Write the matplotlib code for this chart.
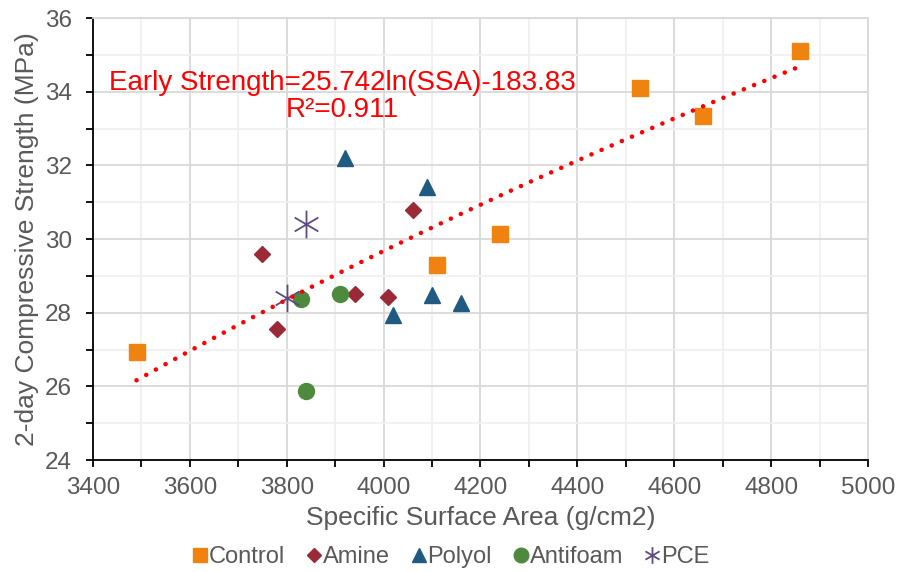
import numpy as np
import matplotlib.pyplot as plt
from matplotlib.path import Path

plt.rcParams['font.family'] = ['Liberation Sans', 'DejaVu Sans']

# surface area (g/cm2) and 2-day strength (MPa) per admixture group
control_ssa = [3490, 4110, 4240, 4530, 4660, 4860]
control_str = [26.92, 29.30, 30.13, 34.09, 33.35, 35.10]
amine_ssa = [3750, 3780, 3940, 4010, 4060]
amine_str = [29.60, 27.57, 28.52, 28.42, 30.78]
polyol_ssa = [3920, 4020, 4090, 4100, 4160]
polyol_str = [32.20, 27.95, 31.40, 28.47, 28.25]
antifoam_ssa = [3830, 3910, 3840]
antifoam_str = [28.38, 28.50, 25.87]
pce_ssa = [3800, 3840]
pce_str = [28.40, 30.40]

# log fit: strength = a*ln(SSA) + b
fit_a, fit_b = 25.742, -183.83
fit_r2 = 0.911
fit_range = (3490, 4860)

gray = '#595959'

# six-armed asterisk marker
star6 = Path([(0, -1), (0, 1), (-0.85, -0.5), (0.85, 0.5), (-0.85, 0.5), (0.85, -0.5)],
             [Path.MOVETO, Path.LINETO] * 3)

fig = plt.figure(figsize=(8.99, 5.72), dpi=100)
ax = fig.add_axes([0.1034, 0.1958, 0.8621, 0.7727])

ax.set_xlim(3400, 5000)
ax.set_ylim(24, 36)
ax.set_xticks(np.arange(3400, 5001, 200))
ax.set_xticks(np.arange(3500, 5000, 200), minor=True)
ax.set_yticks(np.arange(24, 37, 2))
ax.set_yticks(np.arange(25, 36, 2), minor=True)
ax.grid(which='major', color='#D9D9D9', linewidth=1.3)
ax.grid(which='minor', color='#F0F0F0', linewidth=1.3)
ax.set_axisbelow(True)

for s in ['top', 'right']:
    ax.spines[s].set_color('#D9D9D9')
    ax.spines[s].set_linewidth(1.3)
for s in ['left', 'bottom']:
    ax.spines[s].set_color('black')
    ax.spines[s].set_linewidth(1.3)

ax.tick_params(which='both', direction='out', length=5, width=1.3, color='black',
               labelsize=17.5, labelcolor=gray)
ax.tick_params(axis='x', pad=7)
ax.tick_params(axis='y', pad=10)

ax.plot(control_ssa, control_str, 's', color='#F0820F', markersize=11, label='Control', zorder=2)
ax.plot(amine_ssa, amine_str, 'D', color='#9B2938', markersize=8.3, label='Amine', zorder=2)
ax.plot(polyol_ssa, polyol_str, '^', color='#1F5A80', markersize=11, label='Polyol', zorder=2)
ax.plot(antifoam_ssa, antifoam_str, 'o', color='#4E8A3E', markersize=11.5, label='Antifoam', zorder=2)
ax.plot(pce_ssa, pce_str, linestyle='none', marker=star6, color='#5E4A82', markersize=20,
        markeredgewidth=1.3, fillstyle='none', label='PCE', zorder=2)

xs = np.linspace(fit_range[0], fit_range[1], 200)
ax.plot(xs, fit_a * np.log(xs) + fit_b, color='#FF0000', linewidth=3.3,
        linestyle=(0, (0.01, 2.4)), dash_capstyle='round', zorder=3)

ax.text(3915, 33.86, 'Early Strength=%.3fln(SSA)%.2f\nR²=%.3f' % (fit_a, fit_b, fit_r2),
        color='#FF0000', fontsize=20, ha='center', va='center', multialignment='center',
        linespacing=1.05)

ax.set_xlabel('Specific Surface Area (g/cm2)', fontsize=19, color=gray, labelpad=5)
ax.set_ylabel('2-day Compressive Strength (MPa)', fontsize=19, color=gray, labelpad=4)

leg = ax.legend(loc='center', bbox_to_anchor=(0.461, -0.219), ncol=5, frameon=False,
                fontsize=17, handletextpad=0.0, columnspacing=0.85, handlelength=0.75,
                markerscale=1.0, borderaxespad=0)
for t in leg.get_texts():
    t.set_color(gray)
leg.legend_handles[0].set_markersize(10)
leg.legend_handles[1].set_markersize(7.5)
leg.legend_handles[2].set_markersize(10)
leg.legend_handles[3].set_markersize(10.5)
leg.legend_handles[4].set_markersize(12)

fig.savefig('out.png', dpi=100)
